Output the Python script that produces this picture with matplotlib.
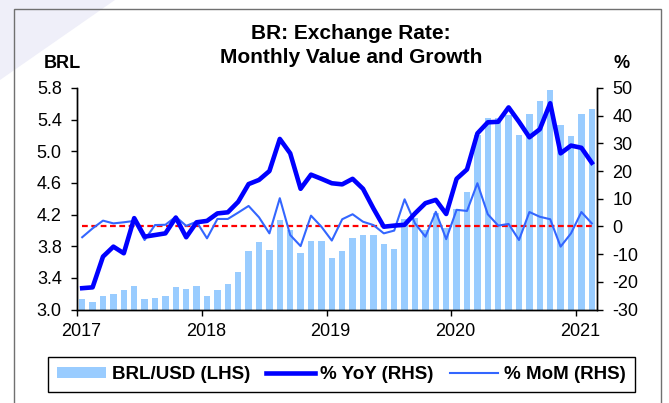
import matplotlib
matplotlib.use('Agg')
import matplotlib.pyplot as plt
import matplotlib.transforms as mtransforms
from matplotlib.patches import Patch, Rectangle, Polygon
from matplotlib.lines import Line2D
import pandas as pd

plt.rcParams['font.family'] = ['Liberation Sans', 'DejaVu Sans']

# ---------------- data ----------------
months = pd.date_range('2017-01-01', periods=50, freq='MS')

brl_usd = [3.13, 3.10, 3.17, 3.20, 3.25, 3.30, 3.13, 3.15, 3.17, 3.28, 3.26, 3.30,
           3.17, 3.25, 3.32, 3.48, 3.74, 3.85, 3.75, 4.13, 4.00, 3.72, 3.86, 3.87,
           3.65, 3.74, 3.90, 3.94, 3.94, 3.83, 3.76, 4.14, 4.16, 4.00, 4.22, 4.03,
           4.27, 4.49, 5.20, 5.42, 5.42, 5.46, 5.20, 5.47, 5.63, 5.77, 5.33, 5.19,
           5.47, 5.53]

yoy = [-22.3, -22.0, -10.9, -7.3, -9.7, 3.0, -3.7, -3.1, -2.5, 3.2, -3.9, 1.5,
       2.0, 4.7, 5.1, 8.9, 15.3, 16.8, 20.0, 31.6, 26.4, 13.6, 18.7, 17.2,
       15.6, 15.2, 17.2, 13.6, 6.5, -0.1, 0.3, 0.6, 4.7, 8.4, 9.6, 4.5,
       17.2, 20.6, 33.6, 37.6, 37.8, 43.0, 37.8, 32.2, 35.1, 44.5, 26.4, 29.2,
       28.4, 23.0]

mom = [-3.9, -0.7, 2.1, 1.1, 1.5, 2.0, -4.9, 0.5, 0.6, 3.5, 0.2, 1.7,
       -4.3, 2.7, 2.7, 5.0, 7.4, 3.3, -2.5, 10.2, -3.1, -7.1, 3.9, -0.1,
       -5.1, 2.6, 4.4, 1.7, 0.5, -2.5, -1.5, 9.8, 1.1, -3.7, 5.3, -4.6,
       6.0, 5.6, 15.6, 4.4, 0.3, 0.9, -4.9, 5.2, 3.5, 2.6, -7.3, -2.5,
       5.2, 1.1]

left_ticks = [3.0, 3.4, 3.8, 4.2, 4.6, 5.0, 5.4, 5.8]
right_ticks = [-30, -20, -10, 0, 10, 20, 30, 40, 50]
year_ticks = [2017, 2018, 2019, 2020, 2021]

title = 'BR: Exchange Rate:\nMonthly Value and Growth'
legend_labels = ['BRL/USD (LHS)', '% YoY (RHS)', '% MoM (RHS)']

# ---------------- styles ----------------
BAR_C = '#99CCFF'
YOY_C = '#0000FF'
MOM_C = '#3366FF'

W, H = 669, 403
x = months.year + (months.month - 0.5) / 12.0

fig = plt.figure(figsize=(W / 100, H / 100), dpi=100)

# faint decorative background swoosh + outer frame
fig.add_artist(Polygon([(0, 1), (115 / W, 1), (0, 1 - 80 / H)], closed=True,
                       transform=fig.transFigure, facecolor='#EFEFF9',
                       edgecolor='none', zorder=0))
fig.add_artist(Rectangle((14 / W, -0.05), (661 - 14) / W, 1 - 9.5 / H + 0.05,
                         transform=fig.transFigure, fill=False,
                         edgecolor='#707070', lw=1.0, zorder=1))

ax = fig.add_axes([77 / W, 1 - 309.5 / H, (597 - 77) / W, (309.5 - 88) / H])
ax.set_facecolor('none')
ax.bar(x, brl_usd, width=0.6 / 12, color=BAR_C, zorder=2)
ax.set_ylim(3.0, 5.8)
ax.set_xlim(2017, 2017 + 50 / 12)

ax2 = ax.twinx()
ax2.plot(x, [0] * len(x), color='#FF0000', lw=1.6, dashes=(2.6, 1.6), zorder=3)
ax2.plot(x, mom, color=MOM_C, lw=1.5, zorder=4)
ax2.plot(x, yoy, color=YOY_C, lw=3.3, zorder=5)
ax2.set_ylim(-30, 50)

for a in (ax, ax2):
    a.spines['top'].set_visible(False)
    for s in ('left', 'right', 'bottom'):
        a.spines[s].set_linewidth(1.0)

ax.set_yticks(left_ticks, labels=[f'{v:.1f}' for v in left_ticks])
ax2.set_yticks(right_ticks, labels=[str(v) for v in right_ticks])
ax.set_xticks(year_ticks, labels=[str(v) for v in year_ticks])

ax.tick_params(axis='y', direction='out', length=4, width=1, labelsize=13, pad=7)
ax2.tick_params(axis='y', direction='out', length=4, width=1, labelsize=13, pad=7)
ax.tick_params(axis='x', direction='out', length=4, width=1, labelsize=13, pad=6)

off = mtransforms.ScaledTranslation(4 / 100, 0, fig.dpi_scale_trans)
for lab in ax.get_xticklabels():
    lab.set_transform(lab.get_transform() + off)

# titles and axis unit labels
fig.text(351 / W, 1 - 45.5 / H, title, ha='center', va='center',
         fontsize=15, fontweight='bold', linespacing=1.28)
fig.text(62 / W, 1 - 63 / H, 'BRL', ha='center', va='center',
         fontsize=13, fontweight='bold')
fig.text(621.5 / W, 1 - 63 / H, '%', ha='center', va='center',
         fontsize=13, fontweight='bold')

handles = [Patch(facecolor=BAR_C, edgecolor='none'),
           Line2D([], [], color=YOY_C, lw=3.3),
           Line2D([], [], color=MOM_C, lw=1.5)]
leg = fig.legend(handles, legend_labels, loc='center', ncol=3,
                 bbox_to_anchor=((49 + 634) / 2 / W, 1 - 374.5 / H),
                 prop={'weight': 'bold', 'size': 13.5},
                 frameon=True, fancybox=False, framealpha=1,
                 edgecolor='black', handlelength=2.6, handleheight=0.5,
                 handletextpad=0.3, columnspacing=0.85, borderpad=0.5,
                 borderaxespad=0)
leg.get_frame().set_linewidth(1.0)

fig.savefig('out.png', dpi=100)
